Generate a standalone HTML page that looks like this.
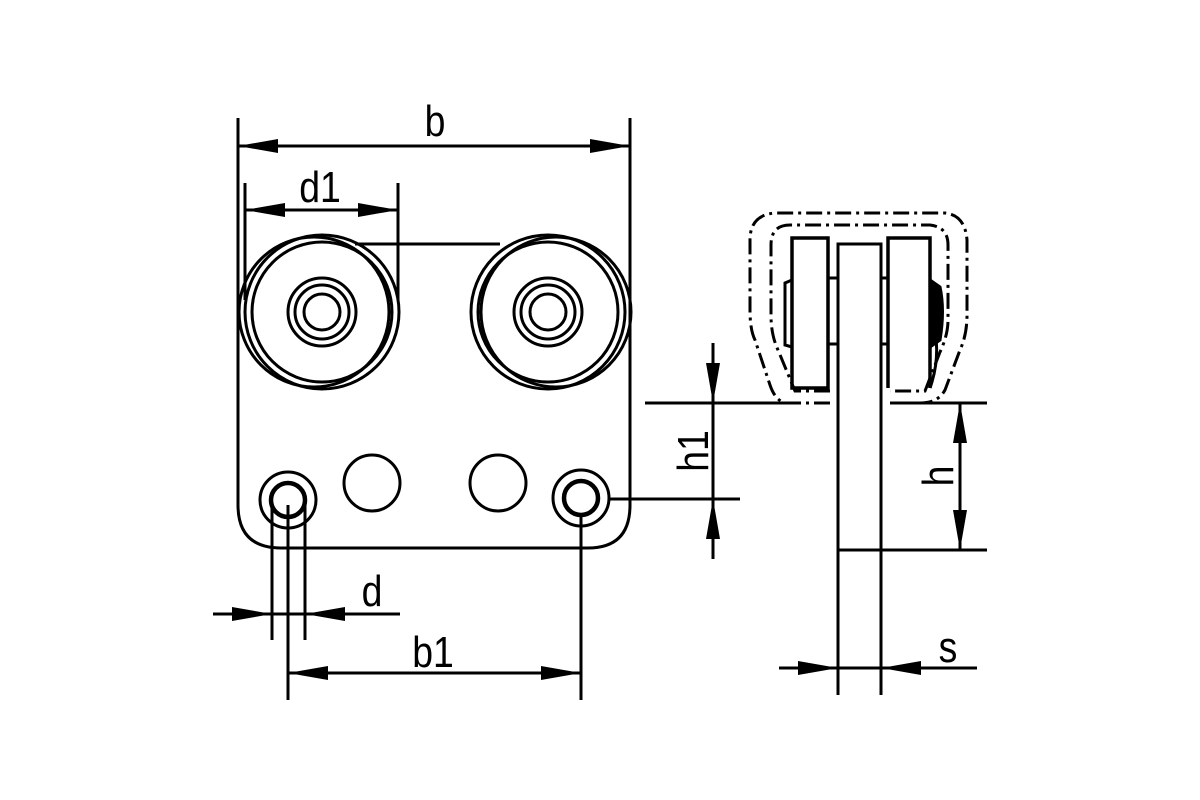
<!DOCTYPE html>
<html><head><meta charset="utf-8"><style>html,body{margin:0;padding:0;background:#fff}svg{display:block}</style></head>
<body>
<svg width="1200" height="800" viewBox="0 0 1200 800" xmlns="http://www.w3.org/2000/svg">
<defs>
<marker id="a" viewBox="0 0 40 14" refX="40" refY="7" markerWidth="40" markerHeight="14" markerUnits="userSpaceOnUse" orient="auto-start-reverse"><path d="M0,0 L40,7 L0,14 Z" fill="#000"/></marker>
</defs>
<g fill="none" stroke="#000" stroke-width="3">
<path d="M238,118 V505 Q238,548 281,548 H588 Q630,548 630,505 V118"/>
<line x1="355" y1="244" x2="500" y2="244"/>
<circle cx="314" cy="312" r="75"/>
<circle cx="322" cy="312" r="77"/>
<circle cx="322" cy="312" r="70"/>
<circle cx="322" cy="312" r="34"/>
<circle cx="322" cy="312" r="27"/>
<circle cx="322" cy="312" r="18"/>
<circle cx="556" cy="312" r="75"/>
<circle cx="548" cy="312" r="77"/>
<circle cx="548" cy="312" r="70"/>
<circle cx="548" cy="312" r="34"/>
<circle cx="548" cy="312" r="27"/>
<circle cx="548" cy="312" r="18"/>
<circle cx="288" cy="500" r="28"/>
<circle cx="288" cy="500" r="17" stroke-width="4.5"/>
<circle cx="372" cy="483" r="28"/>
<circle cx="498" cy="483" r="28"/>
<circle cx="581" cy="498" r="28"/>
<circle cx="581" cy="498" r="17" stroke-width="4.5"/>
<line x1="238" y1="146" x2="630" y2="146" marker-start="url(#a)" marker-end="url(#a)"/>
<line x1="245" y1="183" x2="245" y2="300"/>
<line x1="398" y1="183" x2="398" y2="300"/>
<line x1="245" y1="210" x2="398" y2="210" marker-start="url(#a)" marker-end="url(#a)"/>
<line x1="272" y1="505" x2="272" y2="640"/>
<line x1="305" y1="505" x2="305" y2="640"/>
<line x1="288" y1="505" x2="288" y2="700"/>
<line x1="581" y1="515" x2="581" y2="700"/>
<line x1="213" y1="614" x2="272" y2="614" marker-end="url(#a)"/>
<line x1="400" y1="614" x2="305" y2="614" marker-end="url(#a)"/>
<line x1="272" y1="614" x2="305" y2="614"/>
<line x1="288" y1="673" x2="581" y2="673" marker-start="url(#a)" marker-end="url(#a)"/>
<line x1="609" y1="499" x2="740" y2="499"/>
<line x1="645" y1="403" x2="790" y2="403"/>
<line x1="713" y1="343" x2="713" y2="403" marker-end="url(#a)"/>
<line x1="713" y1="559" x2="713" y2="499" marker-end="url(#a)"/>
<line x1="713" y1="403" x2="713" y2="499"/>
<path d="M838,695 V244 H881 V695"/>
<line x1="838" y1="550" x2="987" y2="550"/>
<line x1="890" y1="403" x2="987" y2="403"/>
<line x1="960" y1="403" x2="960" y2="550" marker-start="url(#a)" marker-end="url(#a)"/>
<line x1="779" y1="668" x2="838" y2="668" marker-end="url(#a)"/>
<line x1="977" y1="668" x2="881" y2="668" marker-end="url(#a)"/>
<line x1="838" y1="668" x2="881" y2="668"/>
<path d="M792,388 V238 H828 V388 Z" stroke-width="3.5"/>
<path d="M888,388 V238 H930 V388" stroke-width="3.5"/>
<path d="M930,388 Q940,360 935,330" stroke-width="3"/>
<line x1="828" y1="278" x2="838" y2="278"/>
<line x1="828" y1="344" x2="838" y2="344"/>
<line x1="881" y1="278" x2="888" y2="278"/>
<line x1="881" y1="344" x2="888" y2="344"/>
<path d="M792,280 L785,283 V345 L792,347"/>
<path d="M930,280 L940,287 Q945,310 940,340 L930,347" fill="#000"/>
<g stroke-dasharray="16,5,3,5" stroke-width="3">
<path d="M830,403 H785 Q775,400 770,385 L755,340 Q750,330 750,310 V240 Q750,215 775,213 H945 Q965,215 967,240 V315 Q967,335 960,350 L945,390 Q938,403 920,403 H890"/>
<path d="M830,391 H795 L778,350 Q771,335 771,315 V245 Q771,225 790,225 H930 Q948,227 948,245 V320 Q948,335 940,352 L925,391 H890"/>
</g>
</g>
<g font-family="Liberation Sans, sans-serif" font-size="44" fill="#000" text-anchor="middle">
<text transform="translate(435,136) scale(0.85,1)">b</text>
<text transform="translate(320,202) scale(0.85,1)">d1</text>
<text transform="translate(372,606) scale(0.85,1)">d</text>
<text transform="translate(433,667) scale(0.85,1)">b1</text>
<text transform="translate(948,662) scale(0.85,1)">s</text>
<text transform="translate(708,451) rotate(-90) scale(0.85,1)">h1</text>
<text transform="translate(953,476) rotate(-90) scale(0.85,1)">h</text>
</g>
</svg>
</body></html>
